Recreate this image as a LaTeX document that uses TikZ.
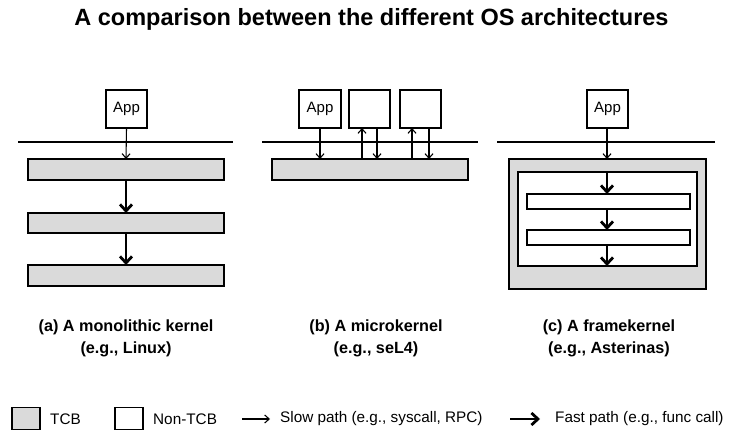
\documentclass[tikz,border=0pt]{standalone}
\usepackage{fontspec}
\setmainfont{Liberation Sans}
\usetikzlibrary{arrows.meta}
\definecolor{tcbgray}{RGB}{218,218,218}
\tikzset{
  box/.style={draw=black, line width=1.8pt, inner sep=0pt, outer sep=0pt},
  tcb/.style={box, fill=tcbgray},
  nontcb/.style={box, fill=white},
  apptxt/.style={font=\fontsize{15}{17}\selectfont},
  sep/.style={line width=1.5pt},
  slow/.style={line width=1.1pt, -{Straight Barb[length=4.5pt,width=8pt]}},
  fast/.style={line width=2.8pt, -{Straight Barb[length=6.5pt,width=12pt]}},
  caption/.style={font=\bfseries\fontsize{16.2}{22}\selectfont, align=center},
  legtxt/.style={font=\fontsize{15.3}{18}\selectfont, anchor=west, inner sep=0pt},
}
\begin{document}
\begin{tikzpicture}[x=1pt,y=-1pt]
\useasboundingbox (0,0) rectangle (743,443);
\fill[white] (0,0) rectangle (743,443);

% Title
\node[font=\bfseries\fontsize{23.5}{28}\selectfont] (title) at (371.5,19.5) {A comparison between the different OS architectures};

% ---------- (a) monolithic ----------
\node[nontcb, minimum width=41pt, minimum height=38pt, apptxt] (appa) at (126.5,109) {App};
\coordinate (sepaL) at (18,142);
\coordinate (sepaR) at (233,142);
\draw[sep] (sepaL) -- (sepaR);
\node[tcb, minimum width=196pt, minimum height=21pt] (a1) at (126,169.5) {};
\node[tcb, minimum width=196pt, minimum height=20pt] (a2) at (126,223) {};
\node[tcb, minimum width=196pt, minimum height=21pt] (a3) at (126,275.5) {};
\draw[slow] (appa.south) -- (a1.north);
\draw[fast] (a1.south) -- (a2.north);
\draw[fast] (a2.south) -- (a3.north);
\node[caption] (capa) at (126,338.5) {(a) A monolithic kernel\\(e.g., Linux)};

% ---------- (b) microkernel ----------
\node[nontcb, minimum width=42pt, minimum height=38pt, apptxt] (appb) at (320,109) {App};
\node[nontcb, minimum width=41pt, minimum height=38pt] (srv1) at (369.5,109) {};
\node[nontcb, minimum width=41pt, minimum height=38pt] (srv2) at (420.5,109) {};
\coordinate (sepbL) at (262,142);
\coordinate (sepbR) at (478,142);
\draw[sep] (sepbL) -- (sepbR);
\node[tcb, minimum width=196pt, minimum height=21pt] (b1) at (370,169.5) {};
\coordinate (u1) at (362,0);
\coordinate (d1) at (377,0);
\coordinate (u2) at (412,0);
\coordinate (d2) at (429,0);
\draw[slow] (appb.south) -- (appb.south |- b1.north);
\draw[slow] (b1.north -| u1) -- (srv1.south -| u1);
\draw[slow] (srv1.south -| d1) -- (b1.north -| d1);
\draw[slow] (b1.north -| u2) -- (srv2.south -| u2);
\draw[slow] (srv2.south -| d2) -- (b1.north -| d2);
\node[caption] (capb) at (376,338.5) {(b) A microkernel\\(e.g., seL4)};

% ---------- (c) framekernel ----------
\node[nontcb, minimum width=41pt, minimum height=38pt, apptxt] (appc) at (607.5,109) {App};
\coordinate (sepcL) at (497,142);
\coordinate (sepcR) at (715,142);
\draw[sep] (sepcL) -- (sepcR);
\node[tcb, minimum width=197pt, minimum height=130pt] (outer) at (607.5,224) {};
\node[nontcb, minimum width=179pt, minimum height=94pt] (inner) at (607.5,219) {};
\node[nontcb, minimum width=163pt, minimum height=15pt] (c1) at (608.5,201.5) {};
\node[nontcb, minimum width=163pt, minimum height=15pt] (c2) at (608.5,237.5) {};
\coordinate (fx) at (607,0);
\draw[slow] (appc.south -| fx) -- (outer.north -| fx);
\draw[fast] (inner.north -| fx) -- (c1.north -| fx);
\draw[fast] (c1.south -| fx) -- (c2.north -| fx);
\draw[fast] (c2.south -| fx) -- (inner.south -| fx);
\node[caption] (capc) at (609,338.5) {(c) A framekernel\\(e.g., Asterinas)};

% ---------- legend ----------
\node[tcb, minimum width=28pt, minimum height=22pt] (legtcb) at (26,418.5) {};
\node[legtxt] (legtcbt) at (50,419) {TCB};
\node[nontcb, minimum width=28pt, minimum height=22pt] (legnon) at (129,418.5) {};
\node[legtxt] (legnont) at (153,419) {Non-TCB};
\coordinate (slowA) at (242,419);
\coordinate (slowB) at (270,419);
\draw[slow] (slowA) -- (slowB);
\node[legtxt] (legslow) at (280,419) {Slow path (e.g., syscall, RPC)};
\coordinate (fastA) at (510,419);
\coordinate (fastB) at (540,419);
\draw[fast] (fastA) -- (fastB);
\node[legtxt] (legfast) at (555,419) {Fast path (e.g., func call)};
\end{tikzpicture}
\end{document}
